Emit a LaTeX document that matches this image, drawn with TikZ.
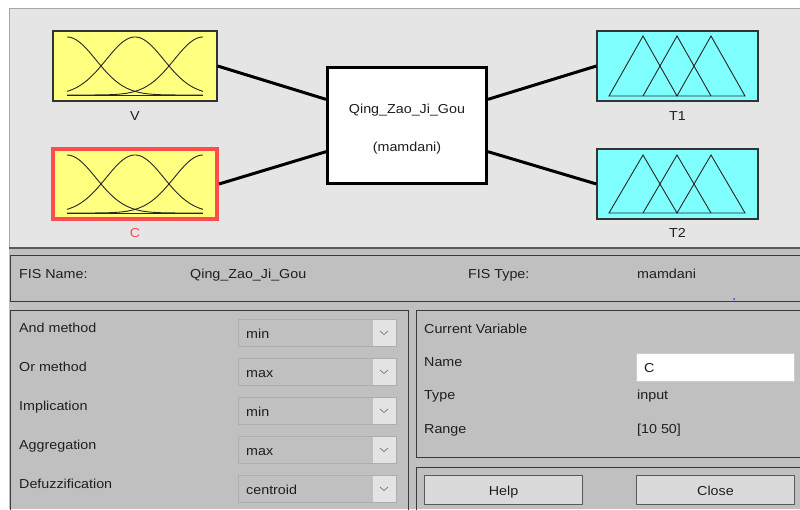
\documentclass[tikz,border=0pt]{standalone}
\usepackage{fontspec}
\setmainfont{Liberation Sans}[FakeStretch=1.1]
\usetikzlibrary{calc}
\definecolor{topgrey}{HTML}{E5E5E5}
\definecolor{botgrey}{HTML}{C0C0C0}
\definecolor{fisyellow}{HTML}{FFFF80}
\definecolor{fiscyan}{HTML}{80FFFF}
\definecolor{selred}{HTML}{FF4D4D}
\definecolor{txt}{HTML}{1E1E24}
\definecolor{panelline}{HTML}{3A3A3A}
\definecolor{ddborder}{HTML}{ADADAD}
\definecolor{ddarrow}{HTML}{E3E3E3}
\definecolor{btnfill}{HTML}{DADADA}
\definecolor{chev}{HTML}{808080}
\begin{document}
\begin{tikzpicture}[x=1pt,y=-1pt,
  every node/.style={font=\fontsize{13}{15}\selectfont, text=txt, inner sep=0pt},
  mfbox/.style={draw=black!80, line width=1.2pt, minimum width=164pt, minimum height=70pt},
  inbox/.style={mfbox, fill=fisyellow},
  outbox/.style={mfbox, fill=fiscyan, minimum width=161pt},
  selbox/.style={inbox, draw=selred, line width=4pt},
  sysbox/.style={draw=black, fill=white, line width=3pt, minimum width=159pt, minimum height=116pt},
  conn/.style={line width=3pt, black},
  mfcurve/.style={black!85, line width=0.9pt},
  panel/.style={draw=panelline, line width=1pt},
  ddbox/.style={draw=ddborder, fill=botgrey, line width=1pt, minimum width=158pt, minimum height=27pt},
  btn/.style={draw=black!65, fill=btnfill, line width=1pt, minimum width=158pt, minimum height=29pt},
  lbl/.style={anchor=base west},
  clbl/.style={anchor=base}
]
\useasboundingbox (0,0) rectangle (800,509);
\clip (0,0) rectangle (800,509);
\fill[white] (0,0) rectangle (800,509);
% top area
\fill[topgrey] (9,8) rectangle (800,247);
\draw[black!35, line width=1pt] (9,509) -- (9,8.5) -- (800,8.5);
\fill[botgrey] (9,248) rectangle (800,509);
\draw[black!65, line width=2pt] (9,247.5) -- (800,247.5);

% membership boxes
\node (V) [inbox] at (135,66) {};
\node (C) [selbox] at (135,184) {};
\node (sys) [sysbox] at (407,125.5) {};
\node (T1) [outbox] at (677.5,66) {};
\node (T2) [outbox] at (677.5,184) {};

\node (lV) [clbl] at (135,120.5) {V};
\node (lC) [clbl, text=selred] at (135,237) {C};
\node (lT1) [clbl] at (677.5,120) {T1};
\node (lT2) [clbl] at (677.5,237) {T2};
\node (sysname) [clbl] at (407,113) {Qing\_Zao\_Ji\_Gou};
\node (systype) [clbl] at (407,151) {(mamdani)};

% connector points on the system box
\coordinate (sysL1) at ($(sys.north west)!0.28!(sys.south west)$);
\coordinate (sysL2) at ($(sys.north west)!0.72!(sys.south west)$);
\coordinate (sysR1) at ($(sys.north east)!0.28!(sys.south east)$);
\coordinate (sysR2) at ($(sys.north east)!0.72!(sys.south east)$);
\draw[conn] (V.east) -- (sysL1);
\draw[conn] (C.east) -- (sysL2);
\draw[conn] (sysR1) -- (T1.west);
\draw[conn] (sysR2) -- (T2.west);

% gaussian curves
\foreach \base/\pk in {95/37, 213/155}{
  \foreach \c in {67,135,203}{
    \draw[mfcurve] plot[domain=67:203, samples=80, smooth]
      (\x, {\base - (\base-\pk)*exp(-0.5*((\x-\c)/28.9)^2)});
  }
  \draw[mfcurve] (67,\base) -- (203,\base);
}
% triangles
\foreach \base/\pk in {96/36, 213/155}{
  \draw[mfcurve, line join=miter] (609,\base) -- (643,\pk) -- (677,\base) -- (711,\pk) -- (745,\base) -- cycle;
  \draw[mfcurve] (643,\base) -- (677,\pk) -- (711,\base);
}

% FIS name panel
\draw[panel] (10,255) rectangle (805,301);
\node (fisnamel) [lbl] at (19,278) {FIS Name:};
\node (fisname) [lbl] at (190,278) {Qing\_Zao\_Ji\_Gou};
\node (fistypel) [lbl] at (468,278) {FIS Type:};
\node (fistype) [lbl] at (637,278) {mamdani};
\fill[blue!80] (734,299) circle (1pt);

% left panel
\draw[panel] (10,310) rectangle (408,520);
\foreach \i/\y/\lab/\val in {1/319/And method/min, 2/358/Or method/max, 3/397/Implication/min, 4/436/Aggregation/max, 5/475/Defuzzification/centroid}{
  \node (meth\i) [lbl] at (19,\y+13) {\lab};
  \node (dd\i) [ddbox, anchor=north west] at (238,\y) {};
  \fill[ddarrow] (373,\y+0.5) rectangle (395.5,\y+26.5);
  \draw[chev, line width=0.8pt] (380,\y+12) -- (384,\y+15.5) -- (388,\y+12);
  \node (ddv\i) [lbl] at (246,\y+19) {\val};
}

% current variable panel
\draw[panel] (416,310) rectangle (805,457);
\node (cv) [lbl] at (424,333) {Current Variable};
\node (nm) [lbl] at (424,366) {Name};
\node (namebox) [draw=black!20, fill=white, line width=1pt, minimum width=158pt, minimum height=28pt, anchor=north west] at (636,353) {};
\node (nmv) [lbl] at (644,372) {C};
\node (tp) [lbl] at (424,399) {Type};
\node (tpv) [lbl] at (637,399) {input};
\node (rg) [lbl] at (424,433) {Range};
\node (rgv) [lbl] at (637,433) {[10 50]};

% buttons panel
\draw[panel] (416,467) rectangle (805,520);
\node (help) [btn, anchor=north west] at (424,475) {};
\node (close) [btn, anchor=north west] at (636,475) {};
\node (helpt) [clbl] at (help.center |- 0,495) {Help};
\node (closet) [clbl] at (close.center |- 0,495) {Close};
\end{tikzpicture}
\end{document}
